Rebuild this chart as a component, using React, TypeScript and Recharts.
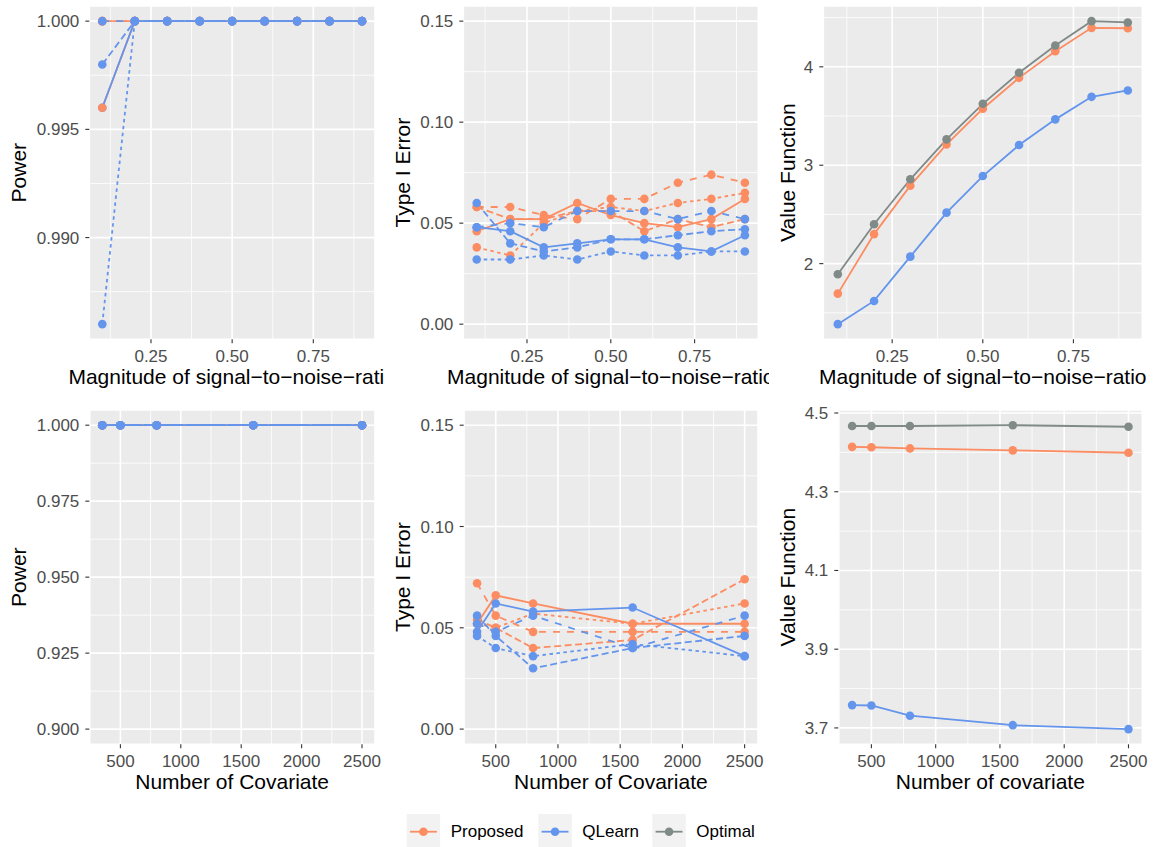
import React from "react";
import { LineChart, Line, XAxis, YAxis, CartesianGrid } from "recharts";

const FONT = '"Liberation Sans", Arial, Helvetica, sans-serif';
const PROPOSED = "#FC8D62";
const QLEARN = "#6495ED";
const OPTIMAL = "#808A87";

// ggplot-like line types for the four simulation settings
const DASHES = [undefined, "3.5 3.5", "7 3.5", "7 7"];

const snr = [0.1, 0.2, 0.3, 0.4, 0.5, 0.6, 0.7, 0.8, 0.9];
const covariates = [350, 500, 800, 1600, 2500];

const snrTicks = [0.25, 0.5, 0.75];
const snrMinor = [0.125, 0.375, 0.625, 0.875];
const covTicks = [500, 1000, 1500, 2000, 2500];
const covMinor = [250, 750, 1250, 1750, 2250];

// power by signal-to-noise ratio, one row per setting
const powerSnrProposed = [
  [0.996, 1, 1, 1, 1, 1, 1, 1, 1],
  [1, 1, 1, 1, 1, 1, 1, 1, 1],
  [1, 1, 1, 1, 1, 1, 1, 1, 1],
  [1, 1, 1, 1, 1, 1, 1, 1, 1],
];
const powerSnrQLearn = [
  [0.996, 1, 1, 1, 1, 1, 1, 1, 1],
  [0.986, 1, 1, 1, 1, 1, 1, 1, 1],
  [0.998, 1, 1, 1, 1, 1, 1, 1, 1],
  [1, 1, 1, 1, 1, 1, 1, 1, 1],
];

// type I error by signal-to-noise ratio
const typeISnrProposed = [
  [0.046, 0.052, 0.052, 0.06, 0.054, 0.05, 0.048, 0.052, 0.062],
  [0.038, 0.034, 0.05, 0.056, 0.058, 0.056, 0.06, 0.062, 0.065],
  [0.058, 0.052, 0.052, 0.056, 0.056, 0.046, 0.052, 0.048, 0.052],
  [0.058, 0.058, 0.054, 0.052, 0.062, 0.062, 0.07, 0.074, 0.07],
];
const typeISnrQLearn = [
  [0.048, 0.046, 0.038, 0.04, 0.042, 0.042, 0.038, 0.036, 0.044],
  [0.032, 0.032, 0.034, 0.032, 0.036, 0.034, 0.034, 0.036, 0.036],
  [0.06, 0.04, 0.036, 0.038, 0.042, 0.042, 0.044, 0.046, 0.047],
  [0.048, 0.05, 0.048, 0.056, 0.056, 0.056, 0.052, 0.056, 0.052],
];

// value function by signal-to-noise ratio
const valueSnrProposed = [1.695, 2.3, 2.792, 3.212, 3.574, 3.888, 4.159, 4.396, 4.392];
const valueSnrQLearn = [1.385, 1.621, 2.071, 2.518, 2.89, 3.205, 3.466, 3.695, 3.76];
const valueSnrOptimal = [1.892, 2.4, 2.857, 3.263, 3.624, 3.939, 4.217, 4.464, 4.451];

// power by number of covariates
const powerCovProposed = [
  [1, 1, 1, 1, 1],
  [1, 1, 1, 1, 1],
  [1, 1, 1, 1, 1],
  [1, 1, 1, 1, 1],
];
const powerCovQLearn = [
  [1, 1, 1, 1, 1],
  [1, 1, 1, 1, 1],
  [1, 1, 1, 1, 1],
  [1, 1, 1, 1, 1],
];

// type I error by number of covariates
const typeICovProposed = [
  [0.052, 0.066, 0.062, 0.052, 0.052],
  [0.052, 0.05, 0.057, 0.052, 0.062],
  [0.054, 0.05, 0.04, 0.044, 0.074],
  [0.072, 0.056, 0.048, 0.048, 0.048],
];
const typeICovQLearn = [
  [0.048, 0.062, 0.058, 0.06, 0.036],
  [0.046, 0.04, 0.036, 0.042, 0.036],
  [0.056, 0.046, 0.03, 0.04, 0.046],
  [0.052, 0.048, 0.056, 0.04, 0.056],
];

// value function by number of covariates
const valueCovProposed = [4.414, 4.413, 4.41, 4.405, 4.399];
const valueCovQLearn = [3.758, 3.757, 3.731, 3.707, 3.697];
const valueCovOptimal = [4.467, 4.467, 4.467, 4.469, 4.465];

type Series = { key: string; color: string; dash?: string; values: number[] };

// ggplot's default 5% continuous expansion
function expand(values: number[]): [number, number] {
  const lo = Math.min(...values);
  const hi = Math.max(...values);
  const pad = (hi - lo) * 0.05;
  return [lo - pad, hi + pad];
}

function settings(prefix: string, color: string, sets: number[][]): Series[] {
  return sets.map((values, i) => ({ key: `${prefix}${i + 1}`, color, dash: DASHES[i], values }));
}

type PanelProps = {
  left: number;
  top: number;
  width: number;
  height: number;
  plot: { left: number; right: number; top: number; bottom: number };
  xs: number[];
  series: Series[];
  dotOrder?: Series[];
  xDomain: [number, number];
  xTicks: number[];
  xMinor: number[];
  xFormat: (v: number) => string;
  yDomain: [number, number];
  yTicks: number[];
  yMinor: number[];
  yFormat: (v: number) => string;
  xTitle: string;
  yTitle: string;
};

function Panel(p: PanelProps) {
  const data = p.xs.map((x, i) => {
    const row: Record<string, number> = { x };
    p.series.forEach((s) => (row[s.key] = s.values[i]));
    return row;
  });
  const dots = p.dotOrder ?? p.series;
  const tick = { fill: "#4D4D4D", fontSize: 17, fontFamily: FONT };

  return (
    <div style={{ position: "absolute", left: p.left, top: p.top, width: p.width, height: p.height, overflow: "hidden" }}>
      <LineChart
        width={p.width}
        height={p.height}
        data={data}
        margin={{ top: p.plot.top, right: p.width - p.plot.right, bottom: 0, left: 0 }}
      >
        <CartesianGrid
          fill="#EBEBEB"
          stroke="#FFFFFF"
          strokeWidth={0.8}
          horizontalValues={p.yMinor}
          verticalValues={p.xMinor}
        />
        <CartesianGrid stroke="#FFFFFF" strokeWidth={1.6} />
        <XAxis
          dataKey="x"
          type="number"
          domain={p.xDomain}
          ticks={p.xTicks}
          allowDataOverflow
          interval={0}
          height={p.height - p.plot.bottom}
          axisLine={false}
          tickLine={{ stroke: "#333333", strokeWidth: 1.1 }}
          tickSize={4}
          tickMargin={7}
          tick={tick}
          tickFormatter={p.xFormat}
        />
        <YAxis
          type="number"
          domain={p.yDomain}
          ticks={p.yTicks}
          allowDataOverflow
          interval={0}
          width={p.plot.left}
          axisLine={false}
          tickLine={{ stroke: "#333333", strokeWidth: 1.1 }}
          tickSize={4}
          tickMargin={6}
          tick={tick}
          tickFormatter={p.yFormat}
        />
        {p.series.map((s) => (
          <Line
            key={`line-${s.key}`}
            dataKey={s.key}
            stroke={s.color}
            strokeWidth={1.8}
            strokeDasharray={s.dash}
            dot={false}
            activeDot={false}
            isAnimationActive={false}
          />
        ))}
        {dots.map((s) => (
          <Line
            key={`dot-${s.key}`}
            dataKey={s.key}
            stroke="none"
            dot={{ r: 4.3, fill: s.color, stroke: "none" }}
            activeDot={false}
            isAnimationActive={false}
          />
        ))}
      </LineChart>
      <svg
        width={p.width}
        height={p.height}
        style={{ position: "absolute", left: 0, top: 0, pointerEvents: "none" }}
        fontFamily={FONT}
      >
        <text x={(p.plot.left + p.plot.right) / 2} y={p.plot.bottom + 44.7} textAnchor="middle" fontSize={21} fill="#000">
          {p.xTitle}
        </text>
        <text
          transform={`translate(26, ${(p.plot.top + p.plot.bottom) / 2}) rotate(-90)`}
          textAnchor="middle"
          fontSize={21}
          fill="#000"
        >
          {p.yTitle}
        </text>
      </svg>
    </div>
  );
}

const fixed = (d: number) => (v: number) => v.toFixed(d);
const SNR_TITLE = "Magnitude of signal\u2212to\u2212noise\u2212ratio";

const legendItems = [
  { name: "Proposed", color: PROPOSED, x: 406.7 },
  { name: "QLearn", color: QLEARN, x: 538.3 },
  { name: "Optimal", color: OPTIMAL, x: 652.3 },
];

export default function App() {
  const pSnr = settings("p", PROPOSED, powerSnrProposed);
  const qSnr = settings("q", QLEARN, powerSnrQLearn);
  const tpSnr = settings("p", PROPOSED, typeISnrProposed);
  const tqSnr = settings("q", QLEARN, typeISnrQLearn);
  const vSnr: Series[] = [
    { key: "p", color: PROPOSED, values: valueSnrProposed },
    { key: "q", color: QLEARN, values: valueSnrQLearn },
    { key: "o", color: OPTIMAL, values: valueSnrOptimal },
  ];
  const pCov = settings("p", PROPOSED, powerCovProposed);
  const qCov = settings("q", QLEARN, powerCovQLearn);
  const tpCov = settings("p", PROPOSED, typeICovProposed);
  const tqCov = settings("q", QLEARN, typeICovQLearn);
  const vCov: Series[] = [
    { key: "p", color: PROPOSED, values: valueCovProposed },
    { key: "q", color: QLEARN, values: valueCovQLearn },
    { key: "o", color: OPTIMAL, values: valueCovOptimal },
  ];

  const snrX = { xs: snr, xDomain: expand(snr), xTicks: snrTicks, xMinor: snrMinor, xFormat: fixed(2) };
  const covX = { xs: covariates, xDomain: expand(covariates), xTicks: covTicks, xMinor: covMinor, xFormat: (v: number) => String(v) };

  return (
    <div style={{ position: "absolute", left: 0, top: 0, width: 1153, height: 847, background: "#FFFFFF", fontFamily: FONT }}>
      <Panel
        left={0} top={0} width={384} height={395}
        plot={{ left: 89.3, right: 375, top: 6, bottom: 339.3 }}
        {...snrX}
        series={[...pSnr, ...qSnr]}
        dotOrder={[qSnr[0], pSnr[0], pSnr[1], pSnr[2], pSnr[3], qSnr[1], qSnr[2], qSnr[3]]}
        yDomain={expand([...powerSnrProposed.flat(), ...powerSnrQLearn.flat()])}
        yTicks={[0.99, 0.995, 1]}
        yMinor={[0.9875, 0.9925, 0.9975]}
        yFormat={fixed(3)}
        xTitle={SNR_TITLE}
        yTitle="Power"
      />
      <Panel
        left={384} top={0} width={385} height={395}
        plot={{ left: 79.3, right: 374.3, top: 6, bottom: 339.3 }}
        {...snrX}
        series={[...tpSnr, ...tqSnr]}
        yDomain={expand([0, 0.15])}
        yTicks={[0, 0.05, 0.1, 0.15]}
        yMinor={[0.025, 0.075, 0.125]}
        yFormat={fixed(2)}
        xTitle={SNR_TITLE}
        yTitle="Type I Error"
      />
      <Panel
        left={769} top={0} width={384} height={395}
        plot={{ left: 54.3, right: 373.3, top: 6, bottom: 339.3 }}
        {...snrX}
        series={vSnr}
        yDomain={expand([...valueSnrProposed, ...valueSnrQLearn, ...valueSnrOptimal])}
        yTicks={[2, 3, 4]}
        yMinor={[1.5, 2.5, 3.5, 4.5]}
        yFormat={(v) => String(v)}
        xTitle={SNR_TITLE}
        yTitle="Value Function"
      />
      <Panel
        left={0} top={395} width={384} height={400}
        plot={{ left: 89.3, right: 375, top: 15, bottom: 349.3 }}
        {...covX}
        series={[...pCov, ...qCov]}
        yDomain={expand([0.9, 1])}
        yTicks={[0.9, 0.925, 0.95, 0.975, 1]}
        yMinor={[0.9125, 0.9375, 0.9625, 0.9875]}
        yFormat={fixed(3)}
        xTitle="Number of Covariate"
        yTitle="Power"
      />
      <Panel
        left={384} top={395} width={385} height={400}
        plot={{ left: 79.7, right: 374, top: 15, bottom: 349.3 }}
        {...covX}
        series={[...tpCov, ...tqCov]}
        yDomain={expand([0, 0.15])}
        yTicks={[0, 0.05, 0.1, 0.15]}
        yMinor={[0.025, 0.075, 0.125]}
        yFormat={fixed(2)}
        xTitle="Number of Covariate"
        yTitle="Type I Error"
      />
      <Panel
        left={769} top={395} width={384} height={400}
        plot={{ left: 69.3, right: 373.3, top: 15, bottom: 349.3 }}
        {...covX}
        series={vCov}
        yDomain={expand([...valueCovProposed, ...valueCovQLearn, ...valueCovOptimal])}
        yTicks={[3.7, 3.9, 4.1, 4.3, 4.5]}
        yMinor={[3.8, 4.0, 4.2, 4.4]}
        yFormat={fixed(1)}
        xTitle="Number of covariate"
        yTitle="Value Function"
      />
      <svg width={1153} height={52} style={{ position: "absolute", left: 0, top: 795 }} fontFamily={FONT}>
        {legendItems.map((item) => (
          <g key={item.name}>
            <rect x={item.x} y={19} width={33.5} height={33} fill="#F2F2F2" />
            <line x1={item.x + 3.3} x2={item.x + 30.2} y1={36.7} y2={36.7} stroke={item.color} strokeWidth={1.8} />
            <circle cx={item.x + 16.75} cy={36.7} r={4.3} fill={item.color} />
            <text x={item.x + 44} y={41.8} fontSize={17} fill="#000">
              {item.name}
            </text>
          </g>
        ))}
      </svg>
    </div>
  );
}
